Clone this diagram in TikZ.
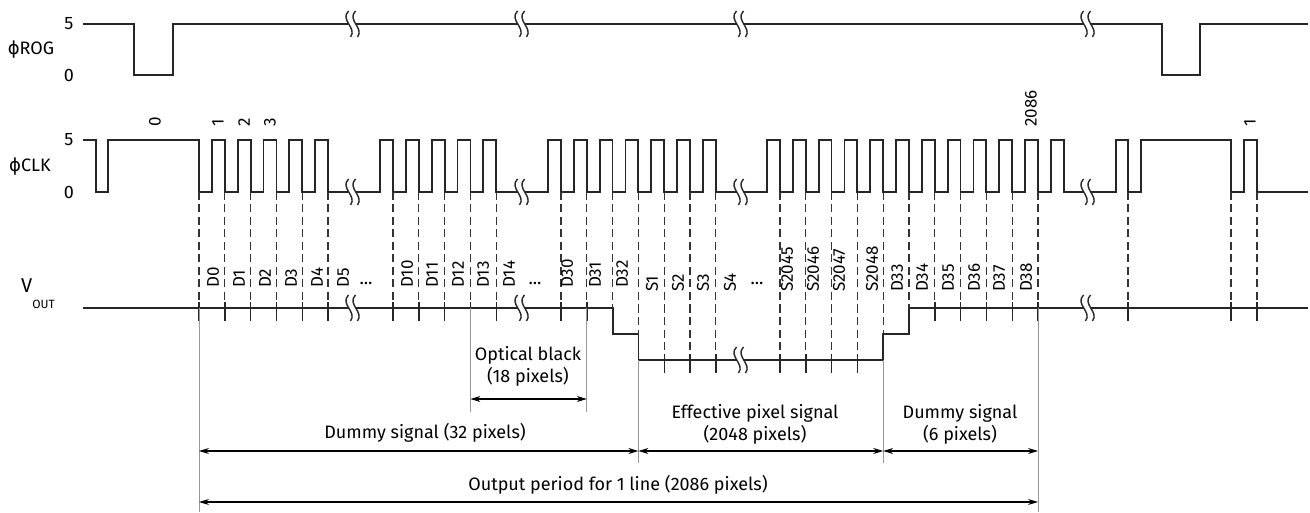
\documentclass[tikz,border=0pt]{standalone}
\usepackage{fontspec}
\setmainfont{Fira Sans}
\newfontfamily\phifont{DejaVu Sans}
\usetikzlibrary{arrows.meta}
\newcommand{\sig}[1]{{\phifont ϕ}#1}

\begin{document}
\begin{tikzpicture}[x=1pt,y=-1pt,
    wave/.style={line width=1.8pt,draw=black!85},
    dashline/.style={line width=1.1pt,draw=black!80,dash pattern=on 8pt off 4.5pt},
    tick/.style={line width=1.4pt,draw=black!85},
    ext/.style={line width=0.9pt,draw=black!40},
    dim/.style={line width=1.1pt,{Stealth[length=10pt,width=6pt]}-{Stealth[length=10pt,width=6pt]}},
    lvl/.style={inner sep=0pt,font=\fontsize{18}{21}\selectfont},
    pix/.style={rotate=90,anchor=west,inner sep=0pt,font=\fontsize{17}{20}\selectfont},
    note/.style={align=center,inner sep=0pt,font=\fontsize{18}{22}\selectfont},
    wavebreak/.pic={
      \fill[white] (-3.5,-13) .. controls (-12.5,-4) and (5.5,4) .. (-1.5,13) -- (5.5,13) .. controls (12.5,4) and (-5.5,-4) .. (3.5,-13) -- cycle;
      \draw[line width=1.4pt,black!85] (-3.5,-13) .. controls (-12.5,-4) and (5.5,4) .. (-1.5,13);
      \draw[line width=1.4pt,black!85] (3.5,-13) .. controls (-5.5,-4) and (12.5,4) .. (5.5,13);
    }]
\useasboundingbox (0,0) rectangle (1310,513);

\node[lvl] (rog) at (31,50) {\sig{ROG}};
\node[lvl] (clk) at (30,167) {\sig{CLK}};
\node[lvl,anchor=base west] (vout) at (21,293) {\fontsize{20}{22}\selectfont V\raisebox{-16pt}{\fontsize{12}{12}\selectfont OUT}};
\node[lvl] (r5) at (69,24) {5};
\node[lvl] (r0) at (69,75) {0};
\node[lvl] (k5) at (69,140) {5};
\node[lvl] (k0) at (69,192) {0};

\draw[wave] (83,24) -| (134,75) -| (173,24) -| (1162,75) -| (1200,24) -- (1308,24);
\draw[wave] (83,140) -| (96,192) -| (108,140) -| (199,192)
  \foreach \k in {0,...,4} { -| ({211.9+25.8*\k},140) -| ({224.8+25.8*\k},192) }
  \foreach \k in {0,...,4} { -| ({380.1+25.8*\k},140) -| ({393+25.8*\k},192) }
  \foreach \k in {0,...,6} { -| ({548+25.8*\k},140) -| ({560.9+25.8*\k},192) }
  \foreach \k in {0,...,11} { -| ({767+25.8*\k},140) -| ({779.9+25.8*\k},192) }
  -| (1116,140) -| (1128,192) -| (1141,140) -| (1231,192) -| (1244,140) -| (1257,192) -- (1308,192);
\draw[wave] (83,308) -| (612.6,334) -| (638.4,360) -| (883.2,334) -| (909,308) -- (1308,308);

\foreach \x/\y in {199/308,224.8/308,250.6/308,276.4/308,302.2/308,328/308,
    393/308,418.8/308,444.6/308,470.4/308,496.2/308,561/308,586.8/308,
    664.2/360,690/360,715.8/360,780/360,805.8/360,831.6/360,857.4/360,
    934.8/308,960.6/308,986.4/308,1012.2/308,1038/308,1128/308,1231/308,1257/308} {
  \draw[dashline] (\x,192) -- (\x,\y-6);
  \draw[tick] (\x,\y-6) -- (\x,\y+13);
}
\foreach \x/\y in {612.6/308,638.4/334,883.2/334,909/308}
  \draw[dashline] (\x,192) -- (\x,\y);

\foreach \x in {352,521,740,1087} {
  \pic at (\x,24) {wavebreak};
  \pic at (\x,192) {wavebreak};
}
\foreach \x/\y in {352/308,521/308,740/360,1087/308}
  \pic at (\x,\y) {wavebreak};

\foreach \x/\t [count=\i] in {155/0,218/1,244/2,270/3,1031/2086,1250/1}
  \node[pix] (c\i) at (\x,127) {\t};
\foreach \x/\t [count=\i] in {213/D0,239/D1,265/D2,291/D3,317/D4,343/D5,
    407/D10,432/D11,458/D12,483/D13,509/D14,567/D30,595/D31,622/D32}
  \node[pix] (d\i) at (\x,288) {\t};
\foreach \x/\t [count=\i] in {652/S1,678/S2,703/S3,730/S4,787/S2045,813/S2046,
    839/S2047,872/S2048,897/D33,922/D34,948/D35,974/D36,999/D37,1026/D38}
  \node[pix] (s\i) at (\x,292) {\t};
\foreach \x [count=\i] in {366,535,757}
  \node[lvl,anchor=base] (dots\i) at (\x,284) {...};

\draw[ext] (199,308) -- (199,512);
\draw[ext] (470.4,308) -- (470.4,412);
\draw[ext] (586.8,308) -- (586.8,412);
\draw[ext] (638.4,360) -- (638.4,463);
\draw[ext] (883.2,360) -- (883.2,463);
\draw[ext] (1038,308) -- (1038,512);

\coordinate (ob1) at (470.4,399);
\coordinate (ob2) at (586.8,399);
\coordinate (ds1) at (199,451);
\coordinate (ds2) at (638.4,451);
\coordinate (ep2) at (883.2,451);
\coordinate (dd2) at (1038,451);
\coordinate (op1) at (199,502);
\coordinate (op2) at (1038,502);
\draw[dim] (ob1) -- (ob2);
\draw[dim] (ds1) -- (ds2);
\draw[dim] (ds2) -- (ep2);
\draw[dim] (ep2) -- (dd2);
\draw[dim] (op1) -- (op2);

\node[note] (ob) at (528,366) {Optical black\\(18 pixels)};
\node[note,anchor=base] (ds) at (425,438) {Dummy signal (32 pixels)};
\node[note] (ep) at (755,424) {Effective pixel signal\\(2048 pixels)};
\node[note] (dd) at (960,424) {Dummy signal\\(6 pixels)};
\node[note,anchor=base] (op) at (618,490) {Output period for 1 line (2086 pixels)};
\end{tikzpicture}
\end{document}
